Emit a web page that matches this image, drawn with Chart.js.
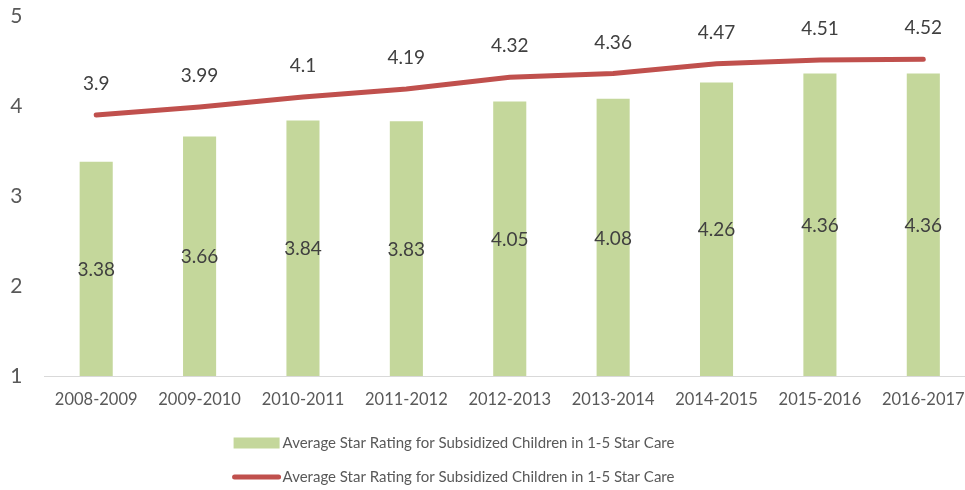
<!DOCTYPE html>
<html>
<head>
<meta charset="utf-8">
<script src="https://cdn.jsdelivr.net/npm/chart.js@4/dist/chart.umd.min.js"></script>
<style>
html,body{margin:0;padding:0;background:#fff;overflow:hidden;width:965px;height:490px;}
#wrap{width:980px;height:490px;position:relative;}
</style>
</head>
<body>
<div id="wrap"><canvas id="c" width="980" height="490"></canvas></div>
<script>
const categories = ["2008-2009","2009-2010","2010-2011","2011-2012","2012-2013","2013-2014","2014-2015","2015-2016","2016-2017"];
const barValues = [3.38,3.66,3.84,3.83,4.05,4.08,4.26,4.36,4.36];
const lineValues = [3.9,3.99,4.1,4.19,4.32,4.36,4.47,4.51,4.52];
const seriesName = "Average Star Rating for Subsidized Children in 1-5 Star Care";
const yTicks = [1,2,3,4,5];

const BAR_COLOR = "#C4D79B";
const LINE_COLOR = "#C0504D";
const FONT = "Lato";

const valueLabels = {
  id: "valueLabels",
  afterDatasetsDraw(chart) {
    const ctx = chart.ctx;
    const bottom = chart.chartArea.bottom;
    ctx.save();
    ctx.font = "19px " + FONT;
    ctx.fillStyle = "#404040";
    ctx.textAlign = "center";
    ctx.textBaseline = "middle";
    chart.data.datasets.forEach((ds, di) => {
      const meta = chart.getDatasetMeta(di);
      meta.data.forEach((el, i) => {
        const v = ds.data[i];
        let y;
        if (ds.type === "bar") y = (el.y + Math.min(el.base, bottom)) / 2 + 1;
        else y = el.y - 31;
        ctx.fillText(String(v), el.x, y);
      });
    });
    ctx.restore();
  }
};

const customLegend = {
  id: "customLegend",
  afterDraw(chart) {
    const ctx = chart.ctx;
    ctx.save();
    ctx.font = "15px " + FONT;
    ctx.fillStyle = "#595959";
    ctx.textAlign = "left";
    ctx.textBaseline = "middle";
    const tw = ctx.measureText(seriesName).width;
    const boxW = 46, gap = 3;
    const total = boxW + gap + tw;
    const x0 = 454 - total / 2;
    const y1 = 443;
    ctx.fillStyle = BAR_COLOR;
    ctx.fillRect(x0, y1 - 5.5, boxW, 11);
    ctx.fillStyle = "#595959";
    ctx.fillText(seriesName, x0 + boxW + gap, y1);
    const y2 = 477;
    ctx.strokeStyle = LINE_COLOR;
    ctx.lineWidth = 5;
    ctx.lineCap = "round";
    ctx.beginPath();
    ctx.moveTo(x0 + 1, y2);
    ctx.lineTo(x0 + boxW - 1, y2);
    ctx.stroke();
    ctx.fillText(seriesName, x0 + boxW + gap, y2);
    ctx.restore();
  }
};

new Chart(document.getElementById("c"), {
  data: {
    labels: categories,
    datasets: [
      {
        type: "line",
        label: seriesName,
        data: lineValues,
        borderColor: LINE_COLOR,
        backgroundColor: LINE_COLOR,
        borderWidth: 5,
        borderCapStyle: "round",
        pointRadius: 0,
        pointHoverRadius: 0,
        tension: 0,
        order: 0
      },
      {
        type: "bar",
        label: seriesName,
        data: barValues,
        backgroundColor: BAR_COLOR,
        borderWidth: 0,
        categoryPercentage: 1,
        barPercentage: 0.32,
        order: 1
      }
    ]
  },
  options: {
    responsive: false,
    animation: false,
    devicePixelRatio: 1,
    layout: { padding: { top: 16, right: 5, bottom: 80, left: 0 } },
    plugins: {
      legend: { display: false },
      tooltip: { enabled: false },
      title: { display: false }
    },
    scales: {
      x: {
        grid: { display: false, drawTicks: false },
        border: { display: true, color: "#D9D9D9", width: 1 },
        ticks: { color: "#595959", font: { family: FONT, size: 16.5 }, padding: 14, maxRotation: 0, autoSkip: false },
        afterFit(s) { s.height = 34; }
      },
      y: {
        min: 1,
        max: 5,
        grid: { display: false, drawTicks: false },
        border: { display: false },
        afterBuildTicks(s) { s.ticks = yTicks.map(v => ({ value: v })); },
        ticks: { color: "#595959", font: { family: FONT, size: 21 }, padding: 22, stepSize: 1 },
        afterFit(s) { s.width = 44.5; s.paddingTop = 0; s.paddingBottom = 0; }
      }
    }
  },
  plugins: [valueLabels, customLegend]
});
</script>
</body>
</html>
